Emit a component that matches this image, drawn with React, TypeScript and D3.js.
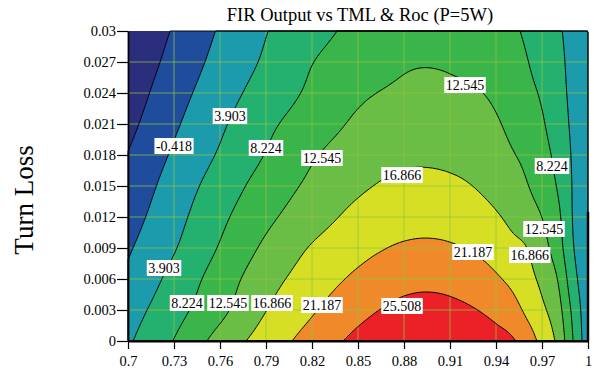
import React, { useRef, useEffect } from "react";
import * as d3 from "d3";

// Roc (x) columns and turn loss (y) rows of the estimated FIR output grid
const rocCols = [0.7, 0.73, 0.76, 0.79, 0.82, 0.85, 0.88, 0.91, 0.94, 0.95, 0.96, 0.97, 0.98, 0.99, 1.0];
const lossRows = [0, 0.003, 0.006, 0.009, 0.012, 0.015, 0.018, 0.021, 0.024, 0.027, 0.03];

// FIR output (W), one row per turn loss value
const fir0000 = [3.35, 8.37, 14.11, 18.77, 22.91, 26.55, 28.66, 28.85, 27.1, 26.1, 23.5, 19.93, 16.04, 8.45, 1.0];
const fir0003 = [1.99, 6.62, 11.47, 16.78, 20.73, 24.3, 26.46, 26.52, 24.3, 22.9, 20.4, 17.68, 14.35, 7.36, 0.8];
const fir0006 = [0.38, 5.18, 10.2, 15.17, 18.87, 22.0, 24.3, 24.2, 21.7, 20.3, 18.3, 15.87, 12.55, 5.63, 0.5];
const fir0009 = [-0.91, 3.6, 8.56, 13.36, 17.2, 19.9, 21.66, 21.62, 19.4, 18.0, 16.9, 14.09, 10.38, 4.3, 0.3];
const fir0012 = [-2.2, 2.46, 7.26, 11.57, 15.03, 18.0, 19.73, 19.49, 17.3, 16.0, 14.6, 12.5, 9.32, 3.8, 0.2];
const fir0015 = [-3.4, 1.39, 5.86, 10.0, 13.42, 16.2, 17.77, 17.66, 15.5, 14.3, 12.8, 10.57, 8.0, 3.7, 0.2];
const fir0018 = [-4.6, 0.15, 4.36, 8.41, 12.11, 14.7, 16.12, 15.85, 14.2, 12.9, 11.6, 9.63, 7.1, 3.5, 0.3];
const fir0021 = [-5.9, -1.05, 3.21, 7.28, 10.34, 13.2, 14.5, 14.44, 13.0, 11.6, 10.2, 8.66, 6.06, 3.2, 0.5];
const fir0024 = [-7.05, -2.18, 2.0, 5.75, 8.99, 11.9, 13.06, 13.19, 11.8, 10.4, 9.2, 7.74, 5.34, 3.0, 0.6];
const fir0027 = [-8.08, -3.34, 0.91, 4.52, 8.1, 10.6, 12.2, 12.15, 10.7, 9.5, 8.4, 6.72, 4.84, 2.9, 0.6];
const fir0030 = [-8.85, -4.36, -0.01, 3.74, 6.62, 9.4, 10.92, 11.02, 9.6, 8.8, 7.7, 6.06, 4.4, 2.8, 0.6];
const firRows = [fir0000, fir0003, fir0006, fir0009, fir0012, fir0015, fir0018, fir0021, fir0024, fir0027, fir0030];

// contour levels and the fill of each band (lowest first)
const levels = [-4.739, -0.418, 3.903, 8.224, 12.545, 16.866, 21.187, 25.508];
const bandColors = ["#2b2e7d", "#1f4c9c", "#1b9bab", "#24b06f", "#3ab54a", "#6abd45", "#d6df24", "#f0892a", "#ec2127"];

const rocTicks = [0.7, 0.73, 0.76, 0.79, 0.82, 0.85, 0.88, 0.91, 0.94, 0.97, 1.0];
const rocTickLabels = ["0.7", "0.73", "0.76", "0.79", "0.82", "0.85", "0.88", "0.91", "0.94", "0.97", "1"];
const lossTicks = [0, 0.003, 0.006, 0.009, 0.012, 0.015, 0.018, 0.021, 0.024, 0.027, 0.03];
const lossTickLabels = ["0", "0.003", "0.006", "0.009", "0.012", "0.015", "0.018", "0.021", "0.024", "0.027", "0.03"];

// contour labels (text, roc, loss)
const labelText = ["-0.418", "3.903", "8.224", "12.545", "12.545", "16.866", "8.224", "12.545", "16.866", "21.187", "21.187", "25.508", "3.903", "8.224", "12.545", "16.866"];
const labelRoc = [0.730, 0.7665, 0.790, 0.8265, 0.9198, 0.8787, 0.9765, 0.9713, 0.962, 0.925, 0.8265, 0.8787, 0.7235, 0.7385, 0.7652, 0.7939];
const labelLoss = [0.01887, 0.02177, 0.01868, 0.01771, 0.02477, 0.01606, 0.01694, 0.01084, 0.00832, 0.00861, 0.00348, 0.00339, 0.00706, 0.00368, 0.00368, 0.00368];

const serif = "'Liberation Serif', 'Times New Roman', serif";

// cubic Hermite through the grid samples, for a smooth picture
function cubicAt(xs: number[], vs: number[], x: number) {
  const n = xs.length;
  let k = d3.bisectRight(xs, x) - 1;
  k = Math.max(0, Math.min(n - 2, k));
  const slope = (i: number) => {
    if (i === 0) return (vs[1] - vs[0]) / (xs[1] - xs[0]);
    if (i === n - 1) return (vs[n - 1] - vs[n - 2]) / (xs[n - 1] - xs[n - 2]);
    const h0 = xs[i] - xs[i - 1], h1 = xs[i + 1] - xs[i];
    const d0 = (vs[i] - vs[i - 1]) / h0, d1 = (vs[i + 1] - vs[i]) / h1;
    return (d0 * h1 + d1 * h0) / (h0 + h1);
  };
  const h = xs[k + 1] - xs[k];
  const t = (x - xs[k]) / h;
  const t2 = t * t, t3 = t2 * t;
  return (2 * t3 - 3 * t2 + 1) * vs[k] + (t3 - 2 * t2 + t) * h * slope(k)
    + (-2 * t3 + 3 * t2) * vs[k + 1] + (t3 - t2) * h * slope(k + 1);
}

export default function App() {
  const svgRef = useRef<SVGSVGElement>(null);

  useEffect(() => {
    const width = 594;
    const height = 371;
    const marginTop = 31;
    const marginRight = 6;
    const marginBottom = 30;
    const marginLeft = 128;

    const x = d3.scaleLinear().domain([0.7, 1]).range([marginLeft, width - marginRight]);
    const y = d3.scaleLinear().domain([0, 0.03]).range([height - marginBottom, marginTop]);

    const svg = d3.select(svgRef.current);
    svg.selectAll("*").remove();

    // resample the grid finely so d3.contours gives smooth lines
    const nx = 300, ny = 200;
    const xAt = (c: number) => 0.7 + (c / nx) * 0.3;
    const yAt = (c: number) => (c / ny) * 0.03;
    const fineX = d3.range(nx).map(i => xAt(i + 0.5));
    const rowsFine = firRows.map(r => fineX.map(xv => cubicAt(rocCols, r, xv)));
    const values = new Array(nx * ny);
    for (let i = 0; i < nx; i++) {
      const col = rowsFine.map(r => r[i]);
      for (let j = 0; j < ny; j++) {
        values[j * nx + i] = cubicAt(lossRows, col, yAt(j + 0.5));
      }
    }

    const contours = d3.contours().size([nx, ny]).thresholds(levels)(values);
    const proj = d3.geoTransform({
      point(px: number, py: number) {
        this.stream.point(x(xAt(px)), y(yAt(py)));
      }
    });
    const path = d3.geoPath(proj);

    const plot = svg.append("g");
    plot.append("rect")
      .attr("x", x(0.7)).attr("y", y(0.03))
      .attr("width", x(1) - x(0.7)).attr("height", y(0) - y(0.03))
      .attr("fill", bandColors[0]);

    plot.append("g")
      .selectAll("path")
      .data(contours)
      .join("path")
      .attr("d", path as any)
      .attr("fill", (d, i) => bandColors[i + 1]);

    // grid
    const grid = svg.append("g").attr("stroke", "#8dc63f").attr("stroke-opacity", 0.75).attr("stroke-width", 1);
    grid.selectAll(".vx")
      .data(rocTicks.slice(1, -1))
      .join("line")
      .attr("x1", d => x(d)).attr("x2", d => x(d))
      .attr("y1", y(0)).attr("y2", y(0.03));
    grid.selectAll(".hy")
      .data(lossTicks.slice(1, -1))
      .join("line")
      .attr("x1", x(0.7)).attr("x2", x(1))
      .attr("y1", d => y(d)).attr("y2", d => y(d));

    // contour lines
    svg.append("g")
      .selectAll("path")
      .data(contours)
      .join("path")
      .attr("d", path as any)
      .attr("fill", "none")
      .attr("stroke", "#000")
      .attr("stroke-width", 1);

    // heavy edge at Roc = 1 near the bottom
    svg.append("line")
      .attr("x1", x(1)).attr("x2", x(1))
      .attr("y1", y(0)).attr("y2", y(0.0125))
      .attr("stroke", "#000").attr("stroke-width", 2.5);

    // contour labels
    const labels = svg.append("g")
      .selectAll("g")
      .data(labelText.map((t, i) => ({ t, r: labelRoc[i], l: labelLoss[i] })))
      .join("g")
      .attr("transform", d => `translate(${x(d.r)},${y(d.l)})`);
    labels.append("rect").attr("fill", "#fff");
    labels.append("text")
      .attr("text-anchor", "middle")
      .attr("dy", "0.35em")
      .attr("font-family", serif)
      .attr("font-size", 14)
      .attr("fill", "#000")
      .text(d => d.t);
    labels.each(function () {
      const g = d3.select(this);
      const bb = (g.select("text").node() as SVGTextElement).getBBox();
      g.select("rect")
        .attr("x", bb.x - 1.5).attr("y", -8)
        .attr("width", bb.width + 3).attr("height", 16);
    });

    // axes
    const xAxis = svg.append("g")
      .attr("transform", `translate(0,${y(0)})`)
      .call(d3.axisBottom(x).tickValues(rocTicks).tickFormat((d, i) => rocTickLabels[i]).tickSize(8).tickSizeOuter(0).tickPadding(7));
    const yAxis = svg.append("g")
      .attr("transform", `translate(${x(0.7)},0)`)
      .call(d3.axisLeft(y).tickValues(lossTicks).tickFormat((d, i) => lossTickLabels[i]).tickSize(11).tickSizeOuter(0).tickPadding(1));
    [xAxis, yAxis].forEach(g => {
      g.attr("font-family", serif).attr("font-size", 14.5);
      g.selectAll("text").attr("fill", "#000");
      g.selectAll("line").attr("stroke", "#000").attr("stroke-width", 1.2);
      g.select(".domain").attr("stroke", "#000").attr("stroke-width", 1.8);
    });

    svg.append("text")
      .attr("x", 360).attr("y", 21)
      .attr("text-anchor", "middle")
      .attr("font-family", serif)
      .attr("font-size", 18.5)
      .attr("fill", "#000")
      .text("FIR Output vs TML & Roc (P=5W)");

    svg.append("text")
      .attr("transform", "translate(33,200) rotate(-90)")
      .attr("text-anchor", "middle")
      .attr("font-family", serif)
      .attr("font-size", 27)
      .attr("fill", "#000")
      .text("Turn Loss");
  }, []);

  return (
    <svg ref={svgRef} width={594} height={371}
      style={{ position: "absolute", left: 0, top: 0, background: "#fff" }} />
  );
}
